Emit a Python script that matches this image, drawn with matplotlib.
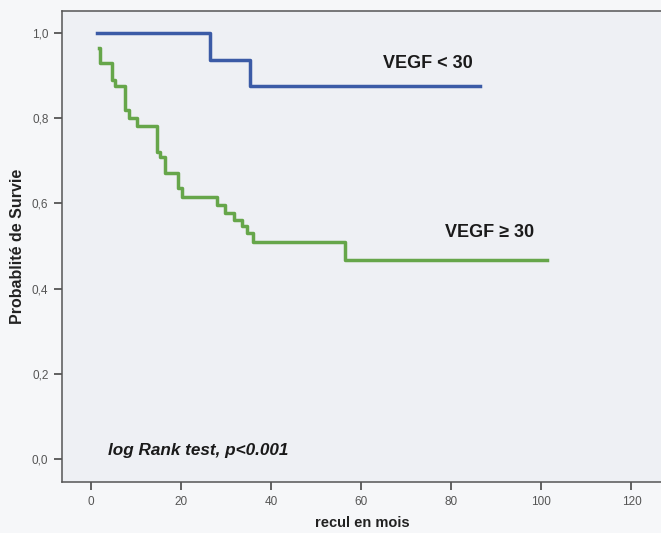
import matplotlib
matplotlib.use("Agg")
import matplotlib.pyplot as plt

plt.rcParams['font.family'] = ['Liberation Sans', 'DejaVu Sans']

# Kaplan-Meier steps (months, survival)
low_t = [1.5, 26.5, 35.3, 86.4]
low_s = [1.0, 0.937, 0.875, 0.875]

high_t = [1.9, 2.1, 4.7, 5.4, 7.6, 8.4, 10.2, 14.7, 15.4, 16.5, 19.4, 20.2,
          28.0, 29.8, 31.7, 33.5, 34.6, 36.1, 56.5, 101.2]
high_s = [0.965, 0.930, 0.890, 0.875, 0.820, 0.801, 0.781, 0.722, 0.710, 0.671,
          0.636, 0.616, 0.597, 0.577, 0.561, 0.546, 0.530, 0.510, 0.467, 0.467]

xticks = [0, 20, 40, 60, 80, 100, 120]
yticks = [0.0, 0.2, 0.4, 0.6, 0.8, 1.0]
ylabels = ['0,0', '0,2', '0,4', '0,6', '0,8', '1,0']

fig = plt.figure(figsize=(6.61, 5.33), dpi=100, facecolor='#f6f7f9')
ax = fig.add_axes([0.0933, 0.0951, 0.9097, 0.885])
ax.set_facecolor('#eef0f4')

ax.step(low_t, low_s, where='post', color='#3b5ba6', lw=2.5)
ax.step(high_t, high_s, where='post', color='#66a64a', lw=2.5)

ax.text(64.8, 0.928, 'VEGF < 30', fontsize=13, fontweight='bold',
        va='center', color='#1a1a1a')
ax.text(78.6, 0.532, 'VEGF \u2265 30', fontsize=13, fontweight='bold',
        va='center', color='#1a1a1a')
ax.text(3.8, 0.02, 'log Rank test, p<0.001', fontsize=12.3, fontweight='bold',
        style='italic', va='center', color='#1a1a1a')

ax.set_xlim(-6.44, 127)
ax.set_ylim(-0.055, 1.053)
ax.set_xticks(xticks)
ax.set_yticks(yticks)
ax.set_yticklabels(ylabels)
ax.tick_params(axis='both', direction='out', length=6, width=1.3,
               colors='#555555', labelsize=8.5)
ax.set_xlabel('recul en mois', fontsize=10.5, fontweight='bold', color='#222222',
              labelpad=6)
ax.set_ylabel('Probablité de Survie', fontsize=11.5, fontweight='bold',
              color='#222222', labelpad=5)
for s in ax.spines.values():
    s.set_color('#555555')
    s.set_linewidth(1.1)

fig.savefig('out.png', dpi=100, facecolor=fig.get_facecolor())
